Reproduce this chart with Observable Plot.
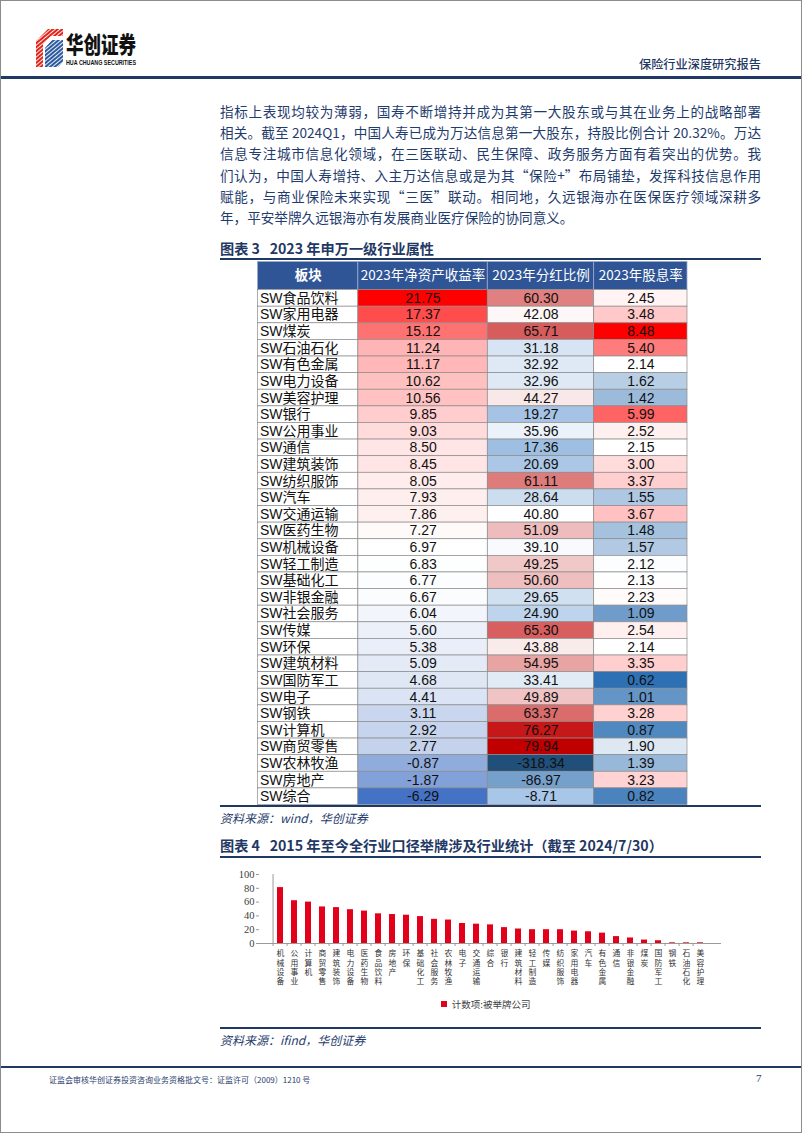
<!DOCTYPE html>
<html lang="zh-CN"><head><meta charset="utf-8">
<script src="https://cdn.jsdelivr.net/npm/d3@7"></script>
<script src="https://cdn.jsdelivr.net/npm/@observablehq/plot@0.6"></script>
<style>
html,body{margin:0;padding:0;background:#fff;}
#page{position:relative;width:800px;height:1131px;border:1px solid #8c8c8c;overflow:hidden;font-family:"Noto Sans CJK SC","Noto Sans",sans-serif;color:#1f3c6e;background:#fff;}
.a{position:absolute;white-space:pre;}
.rule{position:absolute;background:#1f3864;}
.para{position:absolute;left:219px;top:100px;width:541px;font-size:13.6px;line-height:21.2px;color:#1f3c6e;}
.para div{text-align:justify;text-align-last:justify;}
.para div.last{text-align-last:left;}
.title{font-size:14.2px;font-weight:700;color:#1f3864;line-height:18px;}
.src{font-size:12px;font-style:italic;color:#1f3c6e;line-height:16px;}
</style></head>
<body><div id="page">
<svg class="a" style="left:0;top:0" width="170" height="74">
  <defs>
    <pattern id="rs" width="3" height="3" patternUnits="userSpaceOnUse" patternTransform="rotate(-40)"><rect width="3" height="2.1" fill="#e1251b"/></pattern>
    <pattern id="bs" width="3" height="3" patternUnits="userSpaceOnUse" patternTransform="rotate(-40)"><rect width="3" height="2.1" fill="#2c5aa0"/></pattern>
  </defs>
  <polygon points="35,40 47,28 62,28 62,35 50,35 42,43 42,66 35,66" fill="url(#rs)"/>
  <polygon points="44,47 51,39 62,39 62,61 57,66 44,66" fill="url(#bs)"/>
  <text x="65" y="52" font-size="23" font-weight="900" fill="#111" textLength="70" lengthAdjust="spacingAndGlyphs" font-family="Noto Sans CJK SC">华创证券</text>
  <text x="65" y="64" font-size="7" font-weight="700" fill="#111" textLength="70" lengthAdjust="spacingAndGlyphs" font-family="Liberation Sans">HUA CHUANG SECURITIES</text>
</svg>
<div class="a" style="left:638px;top:54px;font-size:12.2px;font-weight:500;color:#1f3864;">保险行业深度研究报告</div>
<div class="rule" style="left:0;top:75px;width:800px;height:2.5px;"></div>

<div class="para">
<div>指标上表现均较为薄弱，国寿不断增持并成为其第一大股东或与其在业务上的战略部署</div>
<div>相关。截至 2024Q1，中国人寿已成为万达信息第一大股东，持股比例合计 20.32%。万达</div>
<div>信息专注城市信息化领域，在三医联动、民生保障、政务服务方面有着突出的优势。我</div>
<div>们认为，中国人寿增持、入主万达信息或是为其“保险+”布局铺垫，发挥科技信息作用</div>
<div>赋能，与商业保险未来实现“三医”联动。相同地，久远银海亦在医保医疗领域深耕多</div>
<div class="last">年，平安举牌久远银海亦有发展商业医疗保险的协同意义。</div>
</div>

<div class="a title" style="left:219px;top:238px;">图表 3   2023 年申万一级行业属性</div>
<div class="rule" style="left:219px;top:257px;width:541px;height:2px;"></div>
<div id="table" class="a" style="left:256px;top:260px;"></div>
<div class="rule" style="left:219px;top:804px;width:541px;height:1.5px;"></div>
<div class="a src" style="left:219px;top:809px;">资料来源：wind，华创证券</div>

<div class="a title" style="left:219px;top:835px;">图表 4   2015 年至今全行业口径举牌涉及行业统计（截至 2024/7/30）</div>
<div class="rule" style="left:219px;top:855px;width:541px;height:2px;"></div>
<div id="chart" class="a" style="left:220px;top:862px;"></div>
<div id="legend" class="a" style="left:440px;top:986px;"></div>
<div class="rule" style="left:219px;top:1026px;width:541px;height:1.5px;"></div>
<div class="a src" style="left:219px;top:1031px;">资料来源：ifind，华创证券</div>

<div class="rule" style="left:0;top:1065px;width:800px;height:2px;"></div>
<div class="a" style="left:48px;top:1073px;font-size:8px;color:#1f3c6e;">证监会审核华创证券投资咨询业务资格批文号：证监许可（2009）1210 号</div>
<div class="a" style="left:755px;top:1071px;font-size:11px;color:#1f3c6e;font-family:'Liberation Serif';">7</div>
</div>
<script>
// ---------- Table data (图表3) ----------
const headers = ["板块", "2023年净资产收益率", "2023年分红比例", "2023年股息率"];
const industries = ["SW食品饮料","SW家用电器","SW煤炭","SW石油石化","SW有色金属","SW电力设备","SW美容护理","SW银行","SW公用事业","SW通信","SW建筑装饰","SW纺织服饰","SW汽车","SW交通运输","SW医药生物","SW机械设备","SW轻工制造","SW基础化工","SW非银金融","SW社会服务","SW传媒","SW环保","SW建筑材料","SW国防军工","SW电子","SW钢铁","SW计算机","SW商贸零售","SW农林牧渔","SW房地产","SW综合"];
const roe = [21.75,17.37,15.12,11.24,11.17,10.62,10.56,9.85,9.03,8.50,8.45,8.05,7.93,7.86,7.27,6.97,6.83,6.77,6.67,6.04,5.60,5.38,5.09,4.68,4.41,3.11,2.92,2.77,-0.87,-1.87,-6.29];
const payout = [60.30,42.08,65.71,31.18,32.92,32.96,44.27,19.27,35.96,17.36,20.69,61.11,28.64,40.80,51.09,39.10,49.25,50.60,29.65,24.90,65.30,43.88,54.95,33.41,49.89,63.37,76.27,79.94,-318.34,-86.97,-8.71];
const dividendYield = [2.45,3.48,8.48,5.40,2.14,1.62,1.42,5.99,2.52,2.15,3.00,3.37,1.55,3.67,1.48,1.57,2.12,2.13,2.23,1.09,2.54,2.14,3.35,0.62,1.01,3.28,0.87,1.90,1.39,3.23,0.82];

// ---------- Bar chart data (图表4) ----------
const boardCats = ["机械设备","公用事业","计算机","商贸零售","建筑装饰","电力设备","医药生物","食品饮料","房地产","环保","基础化工","社会服务","农林牧渔","电子","交通运输","综合","银行","建筑材料","轻工制造","传媒","纺织服饰","家用电器","汽车","有色金属","通信","非银金融","煤炭","国防军工","钢铁","石油石化","美容护理"];
const boardCounts = [81,62,60,53,52,49,47,43,42,41,39,35,34,29,28,27,23,21,20,20,20,18,17,15,10,8,5,4,1,1,1];
const legendLabel = "计数项:被举牌公司";
const yTicks = [0,20,40,60,80,100];

// ---------- Table ----------
const colWeights = [100,129,106,93];
const edges = [0];
colWeights.forEach(w => edges.push(edges[edges.length-1] + w));
const headH = 1.69;
const nRows = industries.length;
const roeColor = d3.scaleLinear().domain([d3.min(roe), d3.median(roe), d3.max(roe)]).range(["#4472c4","#ffffff","#ff0000"]);
const payoutColor = d3.scaleLinear().domain([-320,-87,-9,17,d3.median(payout),d3.max(payout)]).range(["#1f4e79","#76a0cc","#a8c6e8","#9dbde2","#ffffff","#c00000"]);
const dyColor = d3.scaleLinear().domain([d3.min(dividendYield), d3.median(dividendYield), d3.max(dividendYield)]).range(["#2e70b4","#ffffff","#ff0000"]);
const colorScales = [roeColor, payoutColor, dyColor];

const head = headers.map((h,j) => ({x1:edges[j], x2:edges[j+1], y1:0, y2:headH, text:h}));
const nameCells = industries.map((n,i) => ({x1:edges[0], x2:edges[1], y1:headH+i, y2:headH+i+1, text:n}));
const valCells = [];
industries.forEach((n,i) => {
  [roe[i], payout[i], dividendYield[i]].forEach((v,k) => {
    valCells.push({x1:edges[k+1], x2:edges[k+2], y1:headH+i, y2:headH+i+1, text:v.toFixed(2), fill:colorScales[k](v)});
  });
});
const mid = d => (d.x1 + d.x2) / 2;
const vmid = d => (d.y1 + d.y2) / 2;

const table = Plot.plot({
  width: 431, height: 545, margin: 0,
  x: {domain:[0, edges[edges.length-1]], range:[0.5, 430], axis:null},
  y: {domain:[0, headH + nRows], range:[0.5, 543.5], axis:null},
  color: {type:"identity"},
  style: {background:"transparent", overflow:"visible"},
  marks: [
    Plot.rect(head, {x1:"x1", x2:"x2", y1:"y1", y2:"y2", fill:"#2f5597", stroke:"#9aaacb", strokeWidth:0.8}),
    Plot.rect(nameCells, {x1:"x1", x2:"x2", y1:"y1", y2:"y2", fill:"#ffffff", stroke:"#8c8c8c", strokeWidth:0.7}),
    Plot.rect(valCells, {x1:"x1", x2:"x2", y1:"y1", y2:"y2", fill:"fill", stroke:"#8c8c8c", strokeWidth:0.7}),
    Plot.text(head.slice(0,1), {x:mid, y:vmid, text:"text", fill:"#fff", fontSize:13.5, fontWeight:700, fontFamily:"Noto Sans CJK SC"}),
    Plot.text(head.slice(1), {x:mid, y:vmid, text:"text", fill:"#fff", fontSize:13.5, fontFamily:"Noto Sans CJK SC"}),
    Plot.text(nameCells, {x:"x1", y:vmid, text:"text", dx:2, textAnchor:"start", fill:"#111", fontSize:14, fontFamily:"Liberation Sans, Noto Sans CJK SC"}),
    Plot.text(valCells, {x:mid, y:vmid, text:"text", fill:"#111", fontSize:14, fontFamily:"Liberation Sans"})
  ]
});
document.getElementById("table").appendChild(table);

// ---------- Bar chart ----------
const W = 540, mL = 38, mR = 40;
const step = (W - mL - mR) / boardCats.length;
const bars = boardCats.map((c,i) => ({cat:c, n:boardCounts[i], label:c.split("").join("\n")}));
const chart = Plot.plot({
  width: W, height: 133,
  marginLeft: mL, marginRight: mR, marginTop: 11, marginBottom: 53,
  x: {domain: boardCats, paddingInner: 0.55, paddingOuter: 0.275, axis: null},
  y: {domain: [0,100], axis: null},
  color: {domain:[legendLabel], range:["#e3001b"]},
  style: {background:"transparent", overflow:"visible"},
  marks: [
    Plot.barY(bars, {x:"cat", y:"n", fill: () => legendLabel}),
    Plot.ruleY([0], {stroke:"#9a9a9a"}),
    Plot.ruleX(boardCats.slice(0,1), {y1:0, y2:100, dx:-step/2, stroke:"#9a9a9a"}),
    Plot.axisY({ticks: yTicks, tickSize: 3, tickPadding: 2, stroke:"#9a9a9a", fill:"#404040", fontSize: 10.5, fontFamily:"Liberation Serif", label: null}),
    Plot.axisX({tickSize: 3, text: null, dx: -step/2, stroke:"#9a9a9a", label: null}),
    Plot.text(bars, {x:"cat", y: () => 0, text:"label", lineAnchor:"top", dy: 6, lineHeight: 1.2, fontSize: 7.8, fill:"#333", fontFamily:"Noto Sans CJK SC"})
  ]
});
document.getElementById("chart").appendChild(chart);
const leg = chart.legend("color", {swatchSize: 6, style: {fontSize:"9.5px", fontFamily:"Noto Sans CJK SC", color:"#404040"}});
document.getElementById("legend").appendChild(leg);
</script>
</body></html>
